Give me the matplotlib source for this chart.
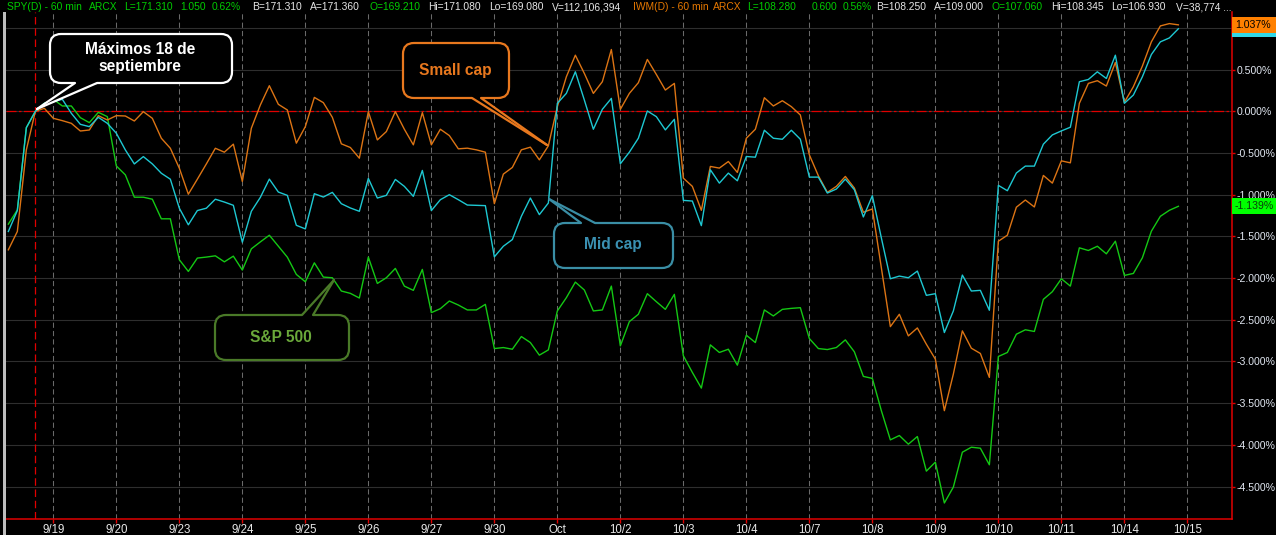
import numpy as np
import matplotlib
matplotlib.use("Agg")
import matplotlib.pyplot as plt
from matplotlib.patches import FancyBboxPatch, Polygon, Rectangle
from matplotlib.ticker import FixedLocator, FuncFormatter

plt.rcParams["font.family"] = ["Liberation Sans", "DejaVu Sans"]

# 60-minute bars, % change vs. the 18 Sep high
day_labels = ["9/19", "9/20", "9/23", "9/24", "9/25", "9/26", "9/27", "9/30", "Oct",
              "10/2", "10/3", "10/4", "10/7", "10/8", "10/9", "10/10", "10/11",
              "10/14", "10/15"]
first_day_bar = 5      # first bar of 9/19
bars_per_day = 7
high_bar = 3           # bar of the 18 Sep high

small_cap = [
    -1.661, -1.441, -0.463, 0.000, 0.036, -0.084, -0.112, -0.144, -0.236, -0.224,
    -0.052, -0.104, -0.052, -0.056, -0.116, -0.004, -0.084, -0.323, -0.443, -0.683,
    -0.994, -0.814, -0.631, -0.443, -0.490, -0.394, -0.841, -0.203, 0.076, 0.307,
    0.084, 0.016, -0.382, -0.183, 0.167, 0.104, -0.072, -0.390, -0.434, -0.562,
    -0.004, -0.343, -0.243, -0.004, -0.215, -0.402, -0.016, -0.402, -0.215, -0.291,
    -0.450, -0.442, -0.462, -0.490, -1.108, -0.753, -0.673, -0.462, -0.430, -0.582,
    -0.414, 0.056, 0.414, 0.673, 0.454, 0.215, 0.355, 0.741, 0.024, 0.215,
    0.343, 0.622, 0.442, 0.255, 0.335, -0.801, -0.900, -1.187, -0.661, -0.681,
    -0.602, -0.733, -0.323, -0.215, 0.163, 0.064, 0.127, 0.056, -0.044, -0.522,
    -0.773, -0.972, -0.900, -0.781, -0.920, -1.211, -1.171, -1.876, -2.582, -2.434,
    -2.693, -2.598, -2.793, -2.972, -3.590, -3.151, -2.633, -2.841, -2.904, -3.191,
    -1.558, -1.486, -1.150, -1.064, -1.147, -0.769, -0.861, -0.594, -0.618, 0.096,
    0.335, 0.367, 0.303, 0.586, 0.108, 0.295, 0.542, 0.833, 1.024, 1.052,
    1.037,
]

mid_cap = [
    -1.441, -1.190, -0.196, 0.000, 0.096, 0.116, 0.144, -0.024, -0.156, -0.184,
    -0.072, -0.144, -0.263, -0.463, -0.631, -0.543, -0.631, -0.743, -0.814, -1.162,
    -1.361, -1.190, -1.162, -1.054, -1.088, -1.127, -1.570, -1.199, -1.032, -0.813,
    -0.968, -1.008, -1.367, -1.410, -0.988, -1.028, -0.972, -1.108, -1.159, -1.199,
    -0.805, -1.040, -1.008, -0.817, -0.900, -1.020, -0.709, -1.191, -1.060, -1.000,
    -1.060, -1.124, -1.127, -1.131, -1.745, -1.618, -1.538, -1.259, -1.040, -1.239,
    -1.100, 0.096, 0.215, 0.474, 0.135, -0.215, 0.024, 0.155, -0.629, -0.490,
    -0.323, 0.004, -0.064, -0.223, -0.096, -1.068, -1.076, -1.371, -0.701, -0.861,
    -0.741, -0.833, -0.542, -0.550, -0.227, -0.323, -0.335, -0.227, -0.335, -0.789,
    -0.789, -0.980, -0.932, -0.813, -0.940, -1.267, -1.012, -1.518, -2.008, -1.976,
    -1.996, -1.916, -2.207, -2.187, -2.653, -2.394, -1.964, -2.155, -2.147, -2.386,
    -0.888, -0.952, -0.740, -0.657, -0.657, -0.394, -0.283, -0.235, -0.191, 0.355,
    0.382, 0.474, 0.394, 0.673, 0.096, 0.195, 0.414, 0.681, 0.833, 0.880,
    0.990,
]

sp500 = [
    -1.353, -1.182, -0.196, 0.000, 0.096, 0.144, 0.064, 0.064, -0.076, -0.136,
    -0.012, -0.064, -0.655, -0.762, -1.030, -1.030, -1.054, -1.289, -1.289, -1.780,
    -1.920, -1.760, -1.748, -1.733, -1.805, -1.737, -1.904, -1.649, -1.566, -1.486,
    -1.618, -1.749, -1.956, -2.044, -1.817, -1.988, -1.996, -2.155, -2.183, -2.239,
    -1.749, -2.064, -1.996, -1.884, -2.096, -2.147, -1.896, -2.414, -2.367, -2.275,
    -2.323, -2.382, -2.382, -2.315, -2.845, -2.833, -2.853, -2.701, -2.773, -2.924,
    -2.861, -2.394, -2.235, -2.048, -2.143, -2.394, -2.382, -2.096, -2.813, -2.522,
    -2.434, -2.187, -2.283, -2.375, -2.195, -2.932, -3.131, -3.319, -2.801, -2.892,
    -2.853, -3.044, -2.685, -2.773, -2.382, -2.454, -2.375, -2.363, -2.355, -2.725,
    -2.845, -2.857, -2.833, -2.741, -2.884, -3.179, -3.203, -3.590, -3.940, -3.888,
    -3.992, -3.900, -4.315, -4.207, -4.697, -4.506, -4.088, -4.028, -4.040, -4.239,
    -2.940, -2.892, -2.673, -2.620, -2.640, -2.255, -2.163, -2.008, -2.096, -1.637,
    -1.669, -1.618, -1.709, -1.558, -1.968, -1.944, -1.757, -1.438, -1.259, -1.187,
    -1.139,
]

y_ticks = [0.5, 0.0, -0.5, -1.0, -1.5, -2.0, -2.5, -3.0, -3.5, -4.0, -4.5]
y_grid = [1.0] + y_ticks

GREEN = "#00cc00"
ORANGE = "#e67800"
WHITE = "#e6e6e6"
header = [
    (7, "SPY(D) - 60 min", GREEN), (89, "ARCX", GREEN), (124, "L=171.310", GREEN),
    (180, "1.050", GREEN), (212, "0.62%", GREEN), (252, "B=171.310", WHITE),
    (310, "A=171.360", WHITE), (369, "O=169.210", GREEN), (428, "Hi=171.080", WHITE),
    (489, "Lo=169.080", WHITE), (552, "V=112,106,394", WHITE),
    (633, "IWM(D) - 60 min", ORANGE), (713, "ARCX", ORANGE), (747, "L=108.280", GREEN),
    (812, "0.600", GREEN), (843, "0.56%", GREEN), (876, "B=108.250", WHITE),
    (934, "A=109.000", WHITE), (992, "O=107.060", GREEN), (1051, "Hi=108.345", WHITE),
    (1111, "Lo=106.930", WHITE), (1176, "V=38,774 ...", WHITE),
]


def callout(ov, box, base_x, tip, color, text, text_xy, text_color, on_top):
    x0, y0, x1, y1 = box
    ov.add_patch(FancyBboxPatch((x0, y0), x1 - x0, y1 - y0,
                                boxstyle="round,pad=0,rounding_size=11",
                                fc="black", ec=color, lw=1.6, zorder=5))
    y_edge = y0 if on_top else y1
    y_in = y_edge + (3 if on_top else -3)
    ov.add_patch(Polygon([(base_x[0], y_in), (base_x[0], y_edge), tip,
                          (base_x[1], y_edge), (base_x[1], y_in)],
                         closed=True, fc="black", ec="none", zorder=6))
    for bx in base_x:
        ov.plot([bx, tip[0]], [y_edge, tip[1]], color=color, lw=1.6,
                solid_capstyle="round", zorder=7)
    ov.text(text_xy[0], text_xy[1], text, color=text_color, fontsize=11.2,
            fontweight="bold", ha="center", va="center", linespacing=1.15,
            zorder=8)


def main():
    W, H = 1276, 535
    fig = plt.figure(figsize=(W / 100, H / 100), dpi=100, facecolor="black")
    ax = fig.add_axes([6 / W, 16 / H, (1232 - 6) / W, (519 - 12) / H])
    ax.set_facecolor("black")

    bars = np.arange(len(sp500))
    day_pos = [first_day_bar + bars_per_day * k for k in range(len(day_labels))]

    ax.set_xlim(-0.26, 135.96)
    ax.set_ylim(-4.889, 1.191)

    for v in y_grid:
        ax.axhline(v, color="#2e2e2e", lw=0.8, zorder=0)
    for p in day_pos:
        ax.axvline(p, color="#6a6a6a", lw=0.75, ls=(0, (5, 3)), zorder=1)
    ax.axhline(0, color="#e00000", lw=0.9, ls=(0, (8, 2, 2, 2)), zorder=1)
    ax.axvline(high_bar, color="#e00000", lw=0.9, ls=(0, (6, 3)), zorder=1)

    ax.plot(bars, sp500, color="#14c814", lw=1.0, zorder=3)
    ax.plot(bars, small_cap, color="#dc7414", lw=1.0, zorder=3)
    ax.plot(bars, mid_cap, color="#1ec8d2", lw=1.0, zorder=4)

    for side in ["left", "top"]:
        ax.spines[side].set_visible(False)
    for side in ["right", "bottom"]:
        ax.spines[side].set_color("#e00000")
        ax.spines[side].set_linewidth(1.1)

    ax.yaxis.tick_right()
    ax.yaxis.set_major_locator(FixedLocator(y_ticks))
    ax.yaxis.set_major_formatter(
        FuncFormatter(lambda v, _: f"{v:.3f}%".replace("-0.000", "0.000")))
    ax.tick_params(axis="y", colors="#e00000", labelcolor="#e0e6f0", length=2.5,
                   width=1, pad=0.5, labelsize=7.6)
    ax.xaxis.set_major_locator(FixedLocator(day_pos))
    ax.set_xticklabels(day_labels)
    ax.tick_params(axis="x", colors="#e00000", labelcolor="#e8e8e8", length=3,
                   width=1, pad=0.5, labelsize=8.3)

    # last-value boxes on the price scale; the mid cap box sits behind the
    # small cap one, so only a strip of it shows
    ytr = ax.get_yaxis_transform()
    px_per_unit = (519 - 12) / (1.191 + 4.889)
    box_h = 16 / px_per_unit
    box_w = 46 / (1232 - 6)
    for k, (series, fc, tc) in enumerate([(mid_cap, "#30d8e8", None),
                                          (small_cap, "#ff8000", "black"),
                                          (sp500, "#00ff00", "#0a3a0a")]):
        v = series[-1]
        ax.add_patch(Rectangle((1.0, v - box_h / 2), box_w, box_h, transform=ytr,
                               fc=fc, ec="none", clip_on=False, zorder=10 + 2 * k))
        if tc is not None:
            ax.text(1.0 + 3 / (1232 - 6), v, f"{v:.3f}%", transform=ytr, color=tc,
                    fontsize=7.6, ha="left", va="center", clip_on=False,
                    zorder=11 + 2 * k)

    # overlay in pixel coordinates for header and callouts
    ov = fig.add_axes([0, 0, 1, 1], facecolor="none")
    ov.set_xlim(0, W)
    ov.set_ylim(H, 0)
    ov.axis("off")
    ov.add_patch(Rectangle((3, 12), 3, H - 12, fc="#bdbdbd", ec="none"))
    for x, txt, col in header:
        ov.text(x, 7, txt, color=col, fontsize=7.4, ha="left", va="center")

    callout(ov, (50, 34, 232, 83), (75, 97), (37, 109), "white",
            "Máximos 18 de\nseptiembre", (140, 58), "white", on_top=False)
    callout(ov, (403, 43, 509, 98), (472, 481), (547, 145), "#e8781e",
            "Small cap", (455, 70), "#e8781e", on_top=False)
    callout(ov, (554, 223, 673, 268), (581, 595), (549, 199), "#3a8ea5",
            "Mid cap", (613, 245), "#3a90b2", on_top=True)
    callout(ov, (215, 315, 349, 360), (302, 313), (334, 280), "#4a7a28",
            "S&P 500", (281, 337), "#6aa83a", on_top=True)

    fig.savefig("out.png", dpi=100, facecolor="black")
    plt.close(fig)


if __name__ == "__main__":
    main()
